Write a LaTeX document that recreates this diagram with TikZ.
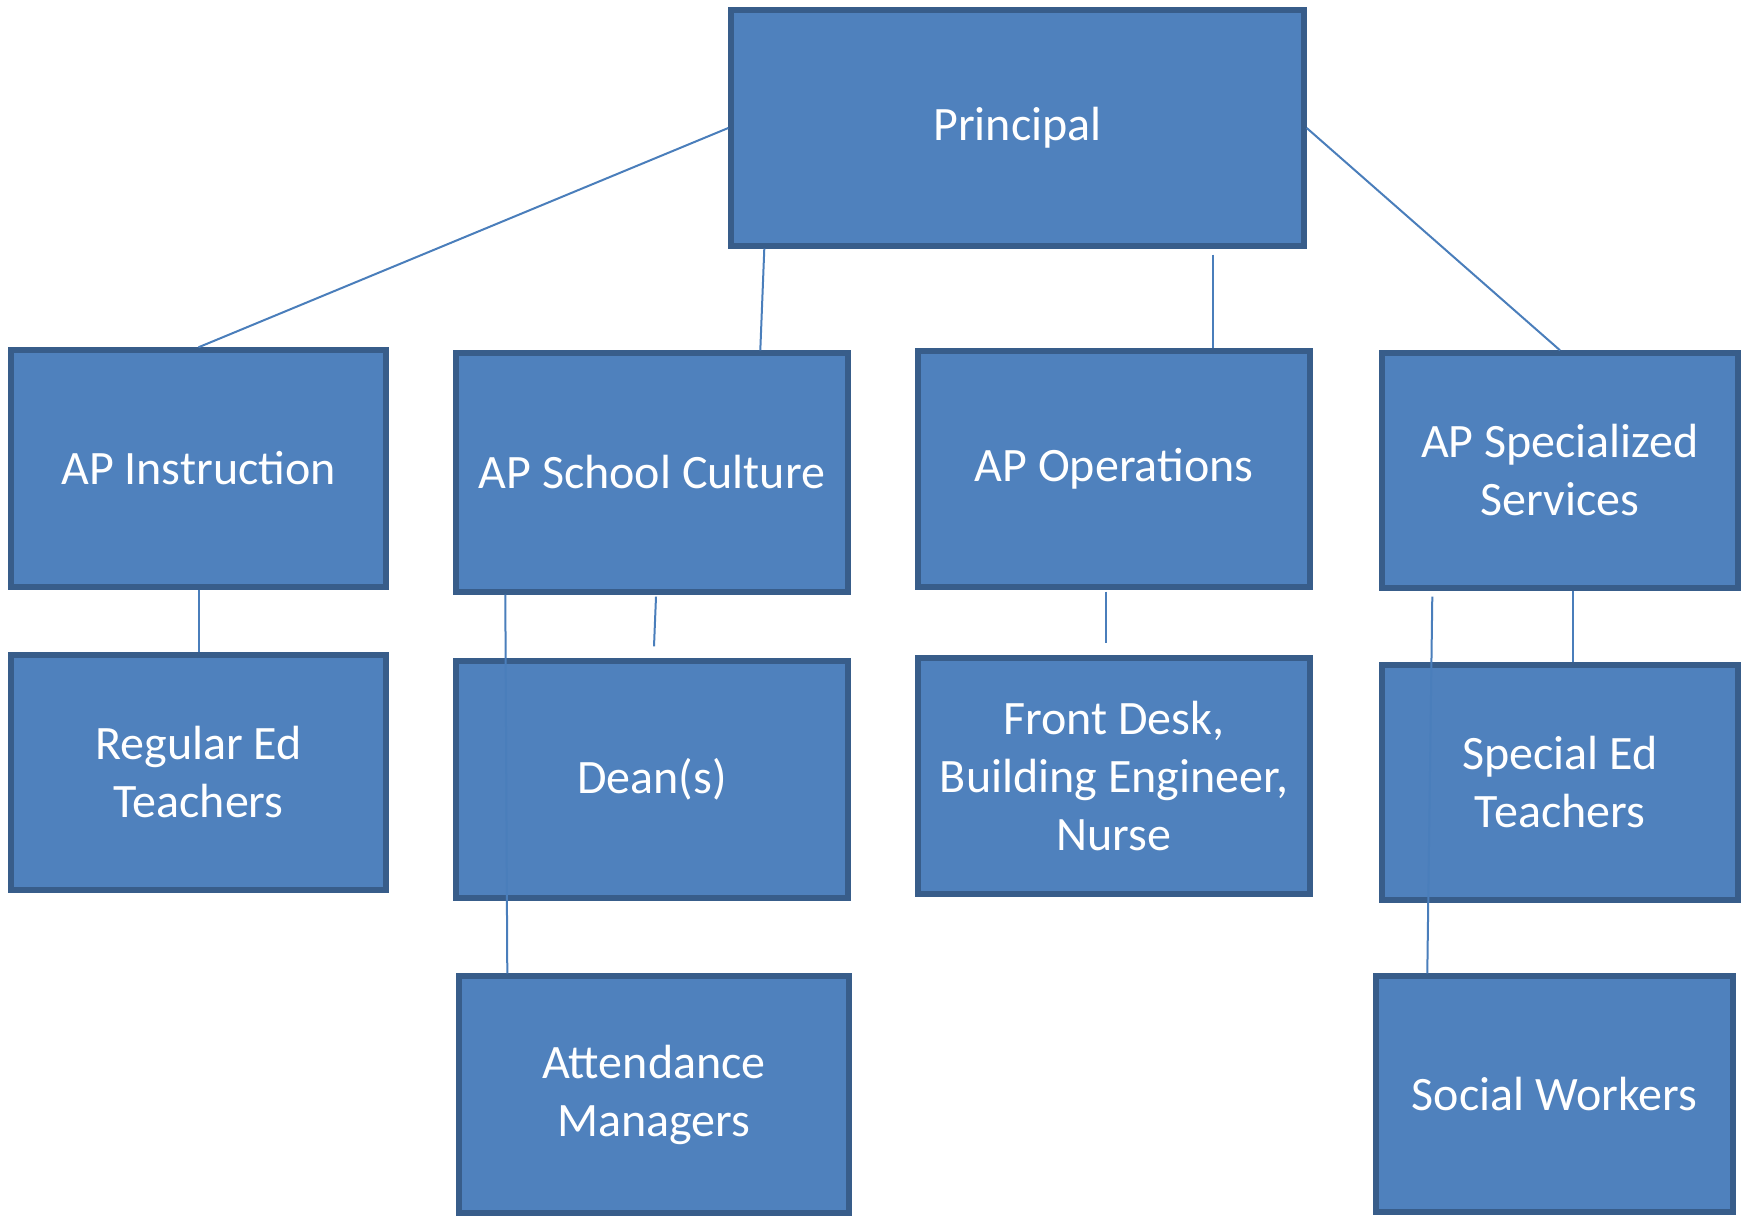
\documentclass[tikz,border=0pt]{standalone}
\usepackage{fontspec}
\setmainfont{Carlito}
\usetikzlibrary{calc}

\definecolor{boxfill}{HTML}{4F81BD}
\definecolor{boxline}{HTML}{385D8A}
\definecolor{linkcol}{HTML}{4A7EBB}

\tikzset{
    box/.style={draw=boxline, fill=boxfill, line width=2.7pt, text=white,
        align=center, inner sep=0pt, font=\fontsize{24}{29}\selectfont},
    link/.style={draw=linkcol, line width=1pt}
}

\begin{document}
\begin{tikzpicture}[x=0.5pt,y=-0.5pt]
    \useasboundingbox (0,0) rectangle (1746,1218);

    % Top level
    \node[box, minimum width=286.5pt, minimum height=118pt] (prin) at (1017.5,128) {Principal};

    % Assistant principals
    \node[box, minimum width=187.5pt, minimum height=118.5pt] (apinstr) at (198.5,468.5) {AP Instruction};
    \node[box, minimum width=196pt, minimum height=119.5pt] (apcult) at (652,472.5) {AP School Culture};
    \node[box, minimum width=196pt, minimum height=118pt] (apops) at (1114,469) {AP Operations};
    \node[box, minimum width=178pt, minimum height=117.5pt] (apspec) at (1560,470.5) {AP Specialized\\Services};

    % Staff under each AP
    \node[box, minimum width=187.5pt, minimum height=117.5pt] (reged) at (198.5,772.5) {Regular Ed\\Teachers};
    \node[box, minimum width=196pt, minimum height=118.5pt] (dean) at (652,779.5) {Dean(s)};
    \node[box, minimum width=196pt, minimum height=118pt] (front) at (1114,776) {Front Desk,\\Building Engineer,\\Nurse};
    \node[box, minimum width=178pt, minimum height=117.5pt] (speced) at (1560,782.5) {Special Ed\\Teachers};
    \node[box, minimum width=195pt, minimum height=118.5pt] (attend) at (654,1094.5) {Attendance\\Managers};
    \node[box, minimum width=178.5pt, minimum height=118pt] (social) at (1554.5,1094) {Social Workers};

    % Loose ends that stop short of a box
    \coordinate (deangap) at ($(dean.north)+(2,-12)$);
    \coordinate (frontgap) at ($(front.north)+(-8,-12)$);

    % Principal to APs
    \draw[link] (prin.west) -- (apinstr.north);
    \draw[link] ($(prin.south west)+(36,0)$) -- ($(apcult.north west)+(307,0)$);
    \draw[link] ($(prin.south west)+(485,6)$) -- ($(apops.north west)+(298,0)$);
    \draw[link] (prin.east) -- (apspec.north);

    % APs to staff
    \draw[link] (apinstr.south) -- (reged.north);
    \draw[link] ($(apcult.south)+(4,2)$) -- (deangap);
    \draw[link] ($(apcult.south west)+(52,0)$) -- ($(attend.north west)+(51,0)$);
    \draw[link] ($(apops.south)+(-8,2)$) -- (frontgap);
    \draw[link] ($(apspec.south west)+(53,6)$) -- ($(social.north west)+(54,0)$);
    \draw[link] ($(apspec.south west)+(194,0)$) -- ($(speced.north west)+(194,0)$);
\end{tikzpicture}
\end{document}
